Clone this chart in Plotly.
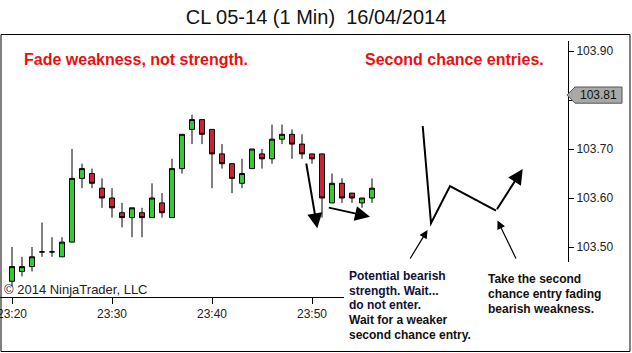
import plotly.graph_objects as go
import pandas as pd

# ---------------- data ----------------
times = pd.date_range("2014-04-16 23:20", periods=37, freq="min")
open_ = [103.43, 103.45, 103.46, 103.49, 103.49, 103.48, 103.51, 103.64, 103.65, 103.62,
         103.60, 103.57, 103.56, 103.57, 103.56, 103.59, 103.56, 103.66, 103.74, 103.76,
         103.74, 103.69, 103.67, 103.63, 103.66, 103.69, 103.68, 103.72, 103.73, 103.71,
         103.69, 103.69, 103.59, 103.63, 103.61, 103.59, 103.60]
high = [103.50, 103.48, 103.50, 103.55, 103.52, 103.52, 103.70, 103.67, 103.66, 103.64,
        103.62, 103.59, 103.58, 103.58, 103.63, 103.61, 103.68, 103.73, 103.77, 103.76,
        103.74, 103.71, 103.67, 103.68, 103.70, 103.70, 103.75, 103.75, 103.74, 103.73,
        103.69, 103.69, 103.65, 103.64, 103.61, 103.60, 103.64]
low = [103.42, 103.44, 103.45, 103.48, 103.48, 103.48, 103.51, 103.62, 103.62, 103.58,
       103.56, 103.54, 103.52, 103.52, 103.56, 103.56, 103.56, 103.65, 103.71, 103.71,
       103.62, 103.66, 103.61, 103.62, 103.66, 103.66, 103.67, 103.71, 103.68, 103.68,
       103.67, 103.56, 103.59, 103.59, 103.59, 103.58, 103.59]
close = [103.46, 103.46, 103.48, 103.49, 103.49, 103.51, 103.64, 103.66, 103.63, 103.60,
         103.58, 103.56, 103.58, 103.56, 103.60, 103.57, 103.66, 103.73, 103.76, 103.73,
         103.69, 103.67, 103.64, 103.65, 103.70, 103.68, 103.72, 103.73, 103.71, 103.69,
         103.68, 103.60, 103.63, 103.60, 103.60, 103.60, 103.62]
x_ticks = ["2014-04-16 23:20", "2014-04-16 23:30", "2014-04-16 23:40", "2014-04-16 23:50"]
x_tick_labels = ["23:20", "23:30", "23:40", "23:50"]
y_ticks = [103.50, 103.60, 103.70, 103.80, 103.90]
last_price = 103.81

# ---------------- layout geometry ----------------
W, H = 632, 353
L, R, T, B = 0, 64, 41, 56
PW, PH = W - L - R, H - T - B

def px(x):
    return (x - L) / PW

def py(y):
    return (H - B - y) / PH

FONT = "Liberation Sans, Arial, sans-serif"

fig = go.Figure()
fig.add_trace(go.Candlestick(
    x=times, open=open_, high=high, low=low, close=close,
    increasing=dict(line=dict(color="black", width=1), fillcolor="#33cc33"),
    decreasing=dict(line=dict(color="black", width=1), fillcolor="#cc2233"),
    whiskerwidth=0, hoverinfo="skip",
))

# the 103.80 label sits under the last-price marker, so it is left blank
y_tick_labels = ["" if abs(v - 103.80) < 1e-9 else f"{v:.2f}" for v in y_ticks]

fig.update_layout(
    width=W, height=H,
    margin=dict(l=L, r=R, t=T, b=B, pad=0, autoexpand=False),
    paper_bgcolor="white", plot_bgcolor="white",
    showlegend=False,
    boxgap=0.5, boxgroupgap=0,
    font=dict(family=FONT, color="#222"),
    title=dict(text="CL 05-14 (1 Min)  16/04/2014", x=0.5, xref="container", xanchor="center",
               y=1 - 17 / H, yref="container", yanchor="middle",
               font=dict(family=FONT, size=20, color="#111")),
)
fig.update_xaxes(
    type="date", range=["2014-04-16 23:18:48", "2014-04-17 00:15:36"],
    rangeslider=dict(visible=False), tickvals=x_ticks, ticktext=x_tick_labels,
    ticklabeloverflow="allow", automargin=False,
    showline=True, linecolor="black", linewidth=1, ticks="outside", ticklen=6,
    tickcolor="black", showgrid=False, zeroline=False,
    tickfont=dict(family=FONT, size=12, color="#222"),
)
fig.update_yaxes(
    side="right", range=[103.39796, 103.92041], tickvals=y_ticks, ticktext=y_tick_labels,
    automargin=False,
    showline=True, linecolor="black", linewidth=1, ticks="outside", ticklen=5,
    tickcolor="black", showgrid=False, zeroline=False,
    tickfont=dict(family=FONT, size=12, color="#222"),
)

shapes = []
# white cover under bottom text boxes
shapes.append(dict(type="rect", xref="paper", yref="paper", x0=px(344), x1=px(629), y0=py(351), y1=py(262),
                   fillcolor="white", line=dict(width=0), layer="above"))
# outer frame
shapes.append(dict(type="rect", xref="paper", yref="paper", x0=px(1), x1=px(630), y0=py(351.5), y1=py(34.5),
                   line=dict(color="black", width=1), fillcolor="rgba(0,0,0,0)", layer="above"))
# zig-zag sketch
zz = [(422.7, 126), (431, 223.3), (450, 186), (496, 210.7)]
path = "M " + " L ".join(f"{px(a)},{py(b)}" for a, b in zz)
shapes.append(dict(type="path", xref="paper", yref="paper", path=path,
                   line=dict(color="black", width=2), layer="above"))
# last price marker
hh = 0.0165
mk = (f"M {px(567)},{last_price} L {px(575)},{last_price + hh} L {px(622)},{last_price + hh} "
      f"L {px(622)},{last_price - hh} L {px(575)},{last_price - hh} Z")
shapes.append(dict(type="path", xref="paper", yref="y", path=mk, fillcolor="#a8a8a8",
                   line=dict(color="#555", width=1), layer="above"))
fig.update_layout(shapes=shapes)

ann = []
def arrow(tipx, tipy, tailx, taily, w, size):
    ann.append(dict(x=px(tipx), y=py(tipy), xref="paper", yref="paper", text="", showarrow=True,
                    ax=tailx - tipx, ay=taily - tipy, arrowhead=2, arrowwidth=w, arrowsize=size,
                    arrowcolor="black", standoff=0))

arrow(317.3, 228.3, 306, 162, 2, 1.5)
arrow(370, 216.7, 327.3, 207.3, 2, 1.5)
arrow(522.7, 169, 496, 210.7, 2, 1.5)
arrow(427.5, 230, 409.3, 260, 1.2, 1.4)
arrow(497.5, 220.5, 516.7, 260, 1.2, 1.4)

def text(x, y, s, size, color, bold=False, anchor="left"):
    ann.append(dict(x=px(x), y=py(y), xref="paper", yref="paper", text=f"<b>{s}</b>" if bold else s,
                    showarrow=False, xanchor=anchor, yanchor="middle",
                    font=dict(family=FONT, size=size, color=color)))

text(22, 59, "Fade weakness, not strength.", 16, "#e81010", bold=True)
text(363, 59, "Second chance entries.", 16, "#e81010", bold=True)
text(2, 289, "© 2014 NinjaTrader, LLC", 13, "#222")

lines1 = ["Potential bearish", "strength. Wait...", "do not enter.", "Wait for a weaker", "second chance entry."]
for i, s in enumerate(lines1):
    text(347, 276 + 14.7 * i, s, 12, "#111" if i > 2 else "#10103a", bold=True)
lines2 = ["Take the second", "chance entry fading", "bearish weakness."]
for i, s in enumerate(lines2):
    text(486, 279.3 + 14.8 * i, s, 12, "#111", bold=True)

ann.append(dict(x=px(598), y=last_price, xref="paper", yref="y", text=f"{last_price:.2f}", showarrow=False,
                xanchor="center", yanchor="middle", font=dict(family=FONT, size=12, color="#111")))
fig.update_layout(annotations=ann)

fig.write_html("out.html")
